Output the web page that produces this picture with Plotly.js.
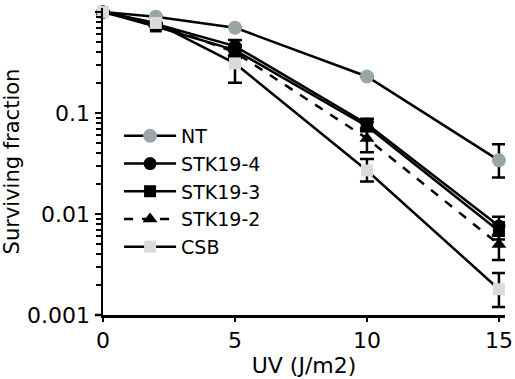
<!DOCTYPE html>
<html>
<head>
<meta charset="utf-8">
<script src="https://cdn.plot.ly/plotly-3.0.1.min.js"></script>
<style>html,body{margin:0;padding:0;background:#fff;}#plot{width:515px;height:379px;}</style>
</head>
<body>
<div id="plot"></div>
<script>
const doses = [0, 2, 5, 10, 15];
const seriesNames = ["NT", "STK19-4", "STK19-3", "STK19-2", "CSB"];
const ntValues = [1, 0.90, 0.70, 0.23, 0.034];
const ntErrPlus = [0, 0, 0, 0, 0.015];
const ntErrMinus = [0, 0, 0, 0, 0.011];
const stk4Values = [1, 0.76, 0.46, 0.078, 0.0076];
const stk4ErrPlus = [0, 0, 0.07, 0.01, 0.0018];
const stk4ErrMinus = [0, 0, 0.05, 0.008, 0.0015];
const stk3Values = [1, 0.72, 0.42, 0.074, 0.0068];
const stk3ErrPlus = [0, 0, 0.05, 0.008, 0.0015];
const stk3ErrMinus = [0, 0, 0.05, 0.008, 0.0012];
const stk2Values = [1, 0.77, 0.40, 0.056, 0.0050];
const stk2ErrPlus = [0, 0, 0.05, 0.015, 0.0012];
const stk2ErrMinus = [0, 0, 0.05, 0.015, 0.0015];
const csbValues = [1, 0.78, 0.31, 0.027, 0.0018];
const csbErrPlus = [0, 0, 0.05, 0.008, 0.0008];
const csbErrMinus = [0, 0, 0.11, 0.006, 0.0006];

function trace(name, y, ep, em, symbol, color, dash, size) {
  return {
    x: doses, y: y, name: name, type: 'scatter', mode: 'lines+markers',
    line: {color: '#000', width: 2.5, dash: dash},
    marker: {symbol: symbol, color: color, size: size, line: {width: 0}},
    error_y: {type: 'data', array: ep, arrayminus: em, visible: true, color: '#000', thickness: 2.5, width: 7},
    cliponaxis: false
  };
}
const data = [
  trace(seriesNames[0], ntValues, ntErrPlus, ntErrMinus, 'circle', '#9aa5a5', 'solid', 14),
  trace(seriesNames[1], stk4Values, stk4ErrPlus, stk4ErrMinus, 'circle', '#000000', 'solid', 13),
  trace(seriesNames[2], stk3Values, stk3ErrPlus, stk3ErrMinus, 'square', '#000000', 'solid', 12),
  trace(seriesNames[3], stk2Values, stk2ErrPlus, stk2ErrMinus, 'triangle-up', '#000000', 'dash', 13),
  trace(seriesNames[4], csbValues, csbErrPlus, csbErrMinus, 'square', '#d8dbdb', 'solid', 12)
];
const font = {family: 'DejaVu Sans, sans-serif', size: 22, color: '#000'};
const legendFont = {family: 'DejaVu Sans, sans-serif', size: 19, color: '#000'};
const layout = {
  width: 515, height: 379,
  margin: {l: 103, r: 10, t: 8, b: 64},
  paper_bgcolor: '#fff', plot_bgcolor: '#fff',
  font: font,
  showlegend: true,
  legend: {x: 0.04, y: 0.645, xanchor: 'left', yanchor: 'top', font: legendFont, bgcolor: 'rgba(0,0,0,0)', itemwidth: 52, tracegroupgap: 0},
  xaxis: {
    range: [0, 15.23], tickvals: [0, 5, 10, 15], ticktext: ['0', '5', '10', '15'],
    showgrid: false, zeroline: false, showline: true, linecolor: '#000', linewidth: 2.5,
    ticks: 'outside', ticklen: 4, tickwidth: 2.5, tickcolor: '#000',
    tickfont: font, title: {text: 'UV (J/m2)', font: font, standoff: 0}
  },
  yaxis: {
    type: 'log', range: [-3, 0.04],
    tickvals: [0.001, 0.01, 0.1, 1], ticktext: ['0.001', '0.01', '0.1', '1'],
    showgrid: false, zeroline: false, showline: true, linecolor: '#000', linewidth: 2.5,
    ticks: 'outside', ticklen: 6, tickwidth: 2.5, tickcolor: '#000',
    minor: {ticks: 'outside', ticklen: 5, tickwidth: 2, tickcolor: '#000', dtick: 'D1', showgrid: false},
    tickfont: font, title: {text: 'Surviving fraction', font: {family: 'DejaVu Sans, sans-serif', size: 21, color: '#000'}, standoff: 2}
  },
  shapes: [{type: 'line', xref: 'paper', yref: 'paper', x0: -0.02, x1: 0, y0: 0, y1: 0, line: {color: '#000', width: 2.5}}]
};
Plotly.newPlot('plot', data, layout, {displayModeBar: false, staticPlot: true});
</script>
</body>
</html>
